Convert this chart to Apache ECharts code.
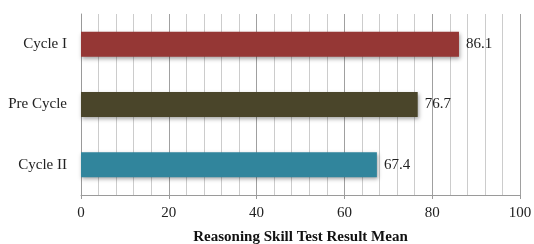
<!DOCTYPE html>
<html>
<head>
<meta charset="utf-8">
<script src="https://cdn.jsdelivr.net/npm/echarts@6/dist/echarts.min.js"></script>
<style>
  html, body { margin: 0; padding: 0; background: #fff; }
  #chart { width: 534px; height: 244px; }
</style>
</head>
<body>
<div id="chart"></div>
<script>
// categories, bottom to top as ECharts draws a category y axis
var categories = ['Cycle II', 'Pre Cycle', 'Cycle I'];
var values = [67.4, 76.7, 86.1];
var barColors = ['#31859c', '#4a452a', '#953735'];
var xTicks = [0, 20, 40, 60, 80, 100];

var chart = echarts.init(document.getElementById('chart'));
var font = '"Liberation Serif", "DejaVu Serif", serif';

var option = {
  animation: false,
  grid: { left: 81, right: 14, top: 14, bottom: 49, outerBoundsMode: 'none', containLabel: false },
  xAxis: {
    type: 'value',
    min: xTicks[0],
    max: xTicks[xTicks.length - 1],
    interval: 20,
    name: 'Reasoning Skill Test Result Mean',
    nameLocation: 'middle',
    nameGap: 35,
    nameTextStyle: { fontFamily: font, fontWeight: 'bold', fontSize: 15, color: '#111' },
    axisLine: { show: true, lineStyle: { color: '#9a9a9a' } },
    axisTick: { show: true, length: 4, lineStyle: { color: '#9a9a9a' } },
    axisLabel: { fontFamily: font, fontSize: 15, color: '#222', margin: 11 },
    splitLine: { show: true, lineStyle: { color: '#a0a0a0' } },
    minorTick: { show: false, splitNumber: 5 },
    minorSplitLine: { show: true, lineStyle: { color: '#cccccc' } }
  },
  yAxis: {
    type: 'category',
    data: categories,
    axisLine: { show: true, lineStyle: { color: '#9a9a9a' } },
    axisTick: { show: false },
    axisLabel: { fontFamily: font, fontSize: 15, color: '#222', margin: 14 }
  },
  series: [{
    type: 'bar',
    data: values.map(function (v, i) {
      return { value: v, itemStyle: { color: barColors[i] } };
    }),
    barWidth: 25,
    itemStyle: {
      shadowColor: 'rgba(0,0,0,0.35)',
      shadowBlur: 4,
      shadowOffsetX: 1,
      shadowOffsetY: 2
    },
    label: {
      show: true,
      position: 'right',
      distance: 7,
      fontFamily: font,
      fontSize: 15,
      color: '#222'
    }
  }]
};

chart.setOption(option);
</script>
</body>
</html>
